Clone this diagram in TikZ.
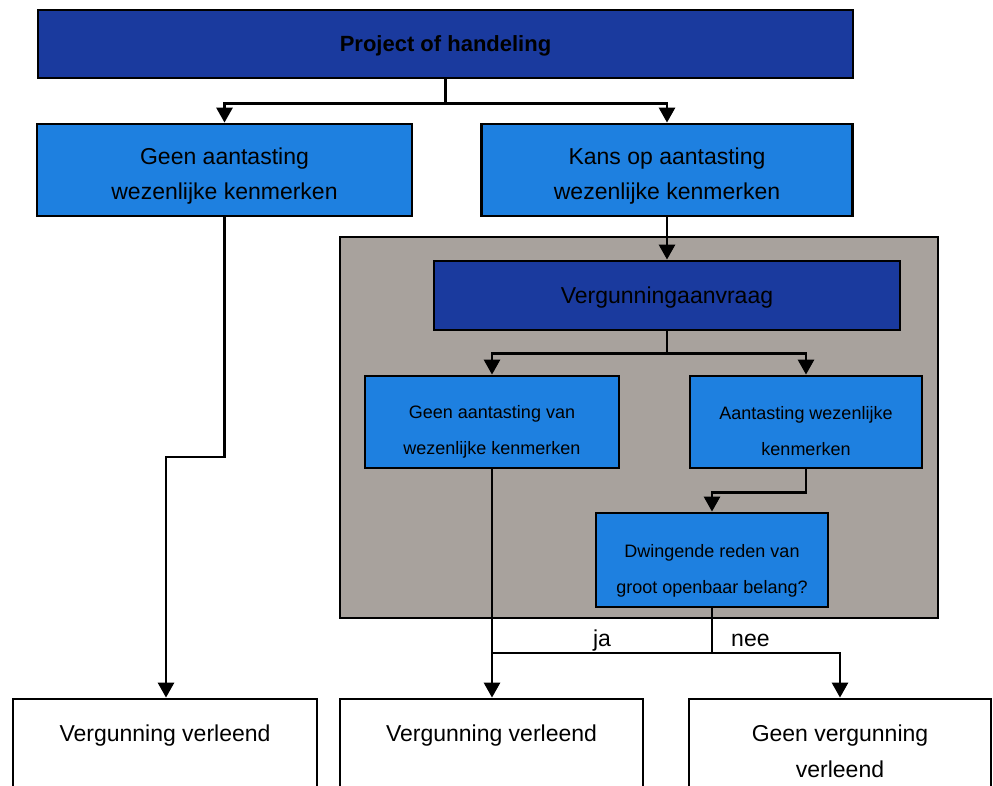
\documentclass[tikz,border=0pt]{standalone}
\usepackage{fontspec}
\setmainfont{Liberation Sans}
\usetikzlibrary{arrows.meta}
\definecolor{navyblue}{RGB}{26,58,158}
\definecolor{boxblue}{RGB}{30,128,224}
\definecolor{panelgrey}{RGB}{168,162,157}
% extra room above the first line, as in the scanned boxes
\newcommand{\lineroom}[1]{\rule{0pt}{#1pt}}

\begin{document}
\begin{tikzpicture}[x=1pt, y=-1pt, line width=2.8pt,
    >={Triangle[length=15pt,width=16pt]},
    box/.style={draw, rectangle, align=center, inner sep=0pt, text=black},
    bigtxt/.style={font=\fontsize{23}{35}\selectfont},
    smalltxt/.style={font=\fontsize{18}{36}\selectfont},
    dark/.style={box, fill=navyblue},
    light/.style={box, fill=boxblue},
    result/.style={box, fill=white, minimum height=104pt,
      font=\fontsize{23}{36}\selectfont},
    lbl/.style={anchor=base, yshift=7pt, inner sep=0pt,
      font=\fontsize{23}{28}\selectfont}]
        \clip (0,0) rectangle (993,785);
        \fill[white] (0,0) rectangle (993,785);

        \node[dark, minimum width=815pt, minimum height=68pt,
          font=\fontsize{22}{26}\selectfont\bfseries] (project) at (445.5,44)
          {\lineroom{20}Project of handeling};

        \node[light, bigtxt, minimum width=375pt, minimum height=92pt] (geen)
          at (224.5,170) {\lineroom{29}Geen aantasting\\wezenlijke kenmerken};
        \node[light, bigtxt, minimum width=371pt, minimum height=92pt] (kans)
          at (667,170) {\lineroom{29}Kans op aantasting\\wezenlijke kenmerken};

        \node[draw, fill=panelgrey, inner sep=0pt, minimum width=598pt,
          minimum height=381pt] (panel) at (639,427.5) {};

        \node[dark, bigtxt, minimum width=466pt, minimum height=69pt]
          (aanvraag) at (667,295.5) {\lineroom{21}Vergunningaanvraag};
        \node[light, smalltxt, minimum width=254pt, minimum height=92pt]
          (geenvan) at (492,422)
          {\lineroom{32}Geen aantasting van\\wezenlijke kenmerken};
        \node[light, smalltxt, minimum width=232pt, minimum height=92pt]
          (aantasting) at (806,422)
          {\lineroom{32}Aantasting wezenlijke\\kenmerken};
        \node[light, smalltxt, minimum width=232pt, minimum height=94pt]
          (dwingend) at (712,560)
          {\lineroom{34}Dwingende reden van\\groot openbaar belang?};

        \node[result, minimum width=304pt] (verleend1) at (165,751)
          {Vergunning verleend\\\phantom{verleend}};
        \node[result, minimum width=303pt] (verleend2) at (491.5,751)
          {Vergunning verleend\\\phantom{verleend}};
        \node[result, minimum width=302pt] (geweigerd) at (840,751)
          {Geen vergunning\\verleend};

        % top split
        \draw[->] (project.south) -- ++(0,24) -| (geen.north);
        \draw[->] (project.south) -- ++(0,24) -| (kans.north);
        \draw[->] (kans.south) -- (aanvraag.north);

        % inside the panel
        \draw[->] (aanvraag.south) -- ++(0,22) -| (geenvan.north);
        \draw[->] (aanvraag.south) -- ++(0,22) -| (aantasting.north);
        \draw[->] (aantasting.south) -- ++(0,23) -| (dwingend.north);

        % down to the results
        \coordinate (knik) at (166,457);
        \draw[->] (geen.south) |- (knik) -- (knik |- verleend1.north);
        \draw[->] (geenvan.south) -- (geenvan.south |- verleend2.north);

        \coordinate (splits) at (712,653);
        \draw (dwingend.south) -- (splits) -- node[lbl] (ja) {ja}
          (splits -| geenvan.south);
        \draw[->] (splits) -- node[lbl, pos=0.3] (nee) {nee}
          (splits -| geweigerd.north) -- (geweigerd.north);
      \end{tikzpicture}
\end{document}
